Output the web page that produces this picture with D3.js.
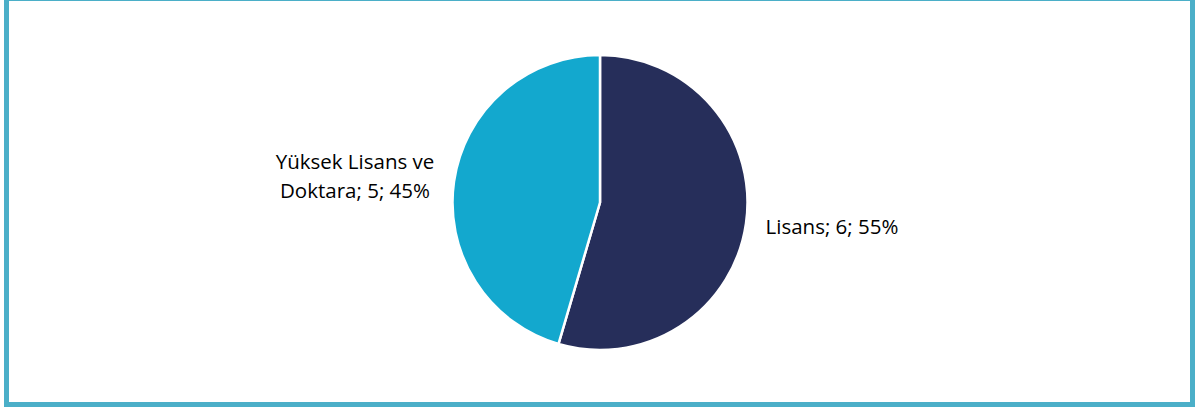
<!DOCTYPE html>
<html><head><meta charset="utf-8">
<script src="https://cdn.jsdelivr.net/npm/d3@7"></script>
<style>html,body{margin:0;padding:0;background:#fff;overflow:hidden}</style>
</head><body>
<svg id="chart" width="1195" height="407"></svg>
<script>
const categories = ["Lisans", "Yüksek Lisans ve Doktara"];
const values = [6, 5];
const colors = ["#262E5A", "#13A8CE"];
const labelLines = [["Lisans; 6; 55%"], ["Yüksek Lisans ve", "Doktara; 5; 45%"]];

const svg = d3.select("#chart");
svg.append("rect").attr("x", 6.5).attr("y", -1.5).attr("width", 1186).attr("height", 406)
  .attr("fill", "#fff").attr("stroke", "#4BAFC8").attr("stroke-width", 5);

const cx = 600, cy = 202.5, r = 147.5;
const pie = d3.pie().sort(null).value(d => d)(values);
const arc = d3.arc().innerRadius(0).outerRadius(r);
const g = svg.append("g").attr("transform", `translate(${cx},${cy})`);
g.selectAll("path").data(pie).join("path")
  .attr("d", arc).attr("fill", (d, i) => colors[i])
  .attr("stroke", "#fff").attr("stroke-width", 2.5).attr("stroke-linejoin", "round");

const labelPos = [{x: 832, y: 234}, {x: 355, y: 169}];
pie.forEach((d, i) => {
  const t = svg.append("text").attr("font-family", "'Open Sans', sans-serif")
    .attr("font-size", 20.5).attr("fill", "#000").attr("text-anchor", "middle");
  labelLines[i].forEach((ln, j) => {
    t.append("tspan").attr("x", labelPos[i].x).attr("y", labelPos[i].y + j * 29).text(ln);
  });
});
</script>
</body></html>
